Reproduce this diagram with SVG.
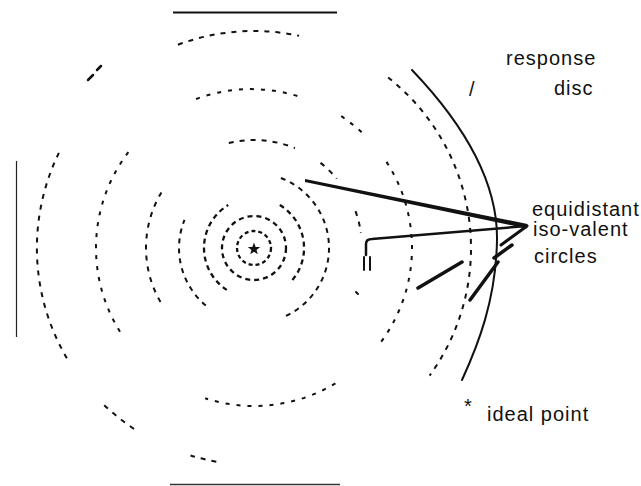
<svg xmlns="http://www.w3.org/2000/svg" width="641" height="486" viewBox="0 0 641 486">
<style>
.d{fill:none;stroke:#111;stroke-width:2}
.c1{stroke-dasharray:4 3;stroke-width:2.3}
.c2{stroke-dasharray:5 4;stroke-width:2.3}
.c3{stroke-dasharray:5 5}
.c4{stroke-dasharray:5 6}
.c5{stroke-dasharray:4 7}
.c6{stroke-dasharray:5 6}
.s{fill:none;stroke:#111;stroke-linecap:round}
.t{font-family:"Liberation Sans",Arial,sans-serif;font-size:20px;letter-spacing:1px;fill:#111}
</style>
<rect width="641" height="486" fill="#fff"/>
<g id="frame">
<line x1="173" y1="12.5" x2="337" y2="12.5" stroke="#111" stroke-width="2"/>
<line x1="170" y1="484.5" x2="340" y2="484.5" stroke="#333" stroke-width="1.5"/>
<line x1="16.5" y1="161" x2="16.5" y2="337" stroke="#222" stroke-width="1.2"/>
</g>
<g id="iso-circles">
<circle class="d c1" cx="254" cy="248" r="17"/>
<circle class="d c2" cx="254" cy="248" r="32"/>
<path class="d c2" d="M279.8,205.1 A50,50 0 0 1 290,282.7 M226.8,289.9 A50,50 0 0 1 228.2,205.1"/>
<path class="d c3" d="M280.9,178 A75,75 0 0 1 285.7,316 M205.8,305.5 A75,75 0 0 1 184.5,219.9"/>
<path class="d c4" d="M228.8,143 A108,108 0 0 1 294.9,148.1 M320.5,162.9 A108,108 0 0 1 336.7,178.6 M355.5,211.1 A108,108 0 0 1 360.9,233 M160.5,302 A108,108 0 0 1 161.4,192.4"/>
<path class="s" stroke-width="2" d="M356,292 L358,294 M364,257 L364,270 M370,257 L370,270"/>
<path class="d c5" d="M196.1,99 A158,158 0 0 1 297.6,96.1 M341.2,116.2 A158,158 0 0 1 364.3,134.9 M386.5,161.9 A158,158 0 0 1 379.3,344.2 M335.4,383.4 A158,158 0 0 1 205.2,398.3 M120,331.7 A158,158 0 0 1 129.5,150.7"/>
<path class="d c6" d="M178,44.7 A217,217 0 0 1 299.1,35.8 M388.1,77.5 A217,217 0 0 1 429.6,375.6 M66.9,358.2 A217,217 0 0 1 58.9,152.9 M134,428.8 A217,217 0 0 1 101,402.1 M216.3,461.7 A217,217 0 0 1 190.6,455.5"/>
<path class="s" stroke-width="2.5" d="M88,80 L93,75 M97,70 L101,66"/>
</g>
<g id="response-disc">
<path class="s" stroke-width="2" d="M412,70 C455,115 498,175 497,240 C496,300 478,345 462,380"/>
</g>
<g id="ideal-point">
<polygon points="254,242.5 255.6,247 260.2,247.1 256.5,249.9 257.8,254.3 254,251.7 250.2,254.3 251.5,249.9 247.8,247.1 252.4,247" fill="#111"/>
</g>
<g id="connectors">
<polygon points="305,179 527.5,224 526.5,228.5 305,182" fill="#111"/>
<path class="s" stroke-width="2.5" d="M366,255 L366,244 Q366,239 372,239 L527,226"/>
<path class="s" stroke-width="3" d="M527,226 L501,245"/>
<path class="s" stroke-width="3.5" d="M418,288 L462,262 M494,258 L512,245 M470,300 L498,262"/>
</g>
<g id="labels">
<text class="t" x="506" y="65">response</text>
<text class="t" x="469" y="96">/</text>
<text class="t" x="554" y="95">disc</text>
<text class="t" x="532" y="216">equidistant</text>
<text class="t" x="533" y="236">iso-valent</text>
<text class="t" x="534" y="263">circles</text>
<text class="t" x="464" y="413">*</text>
<text class="t" x="487" y="421">ideal point</text>
</g>
</svg>
